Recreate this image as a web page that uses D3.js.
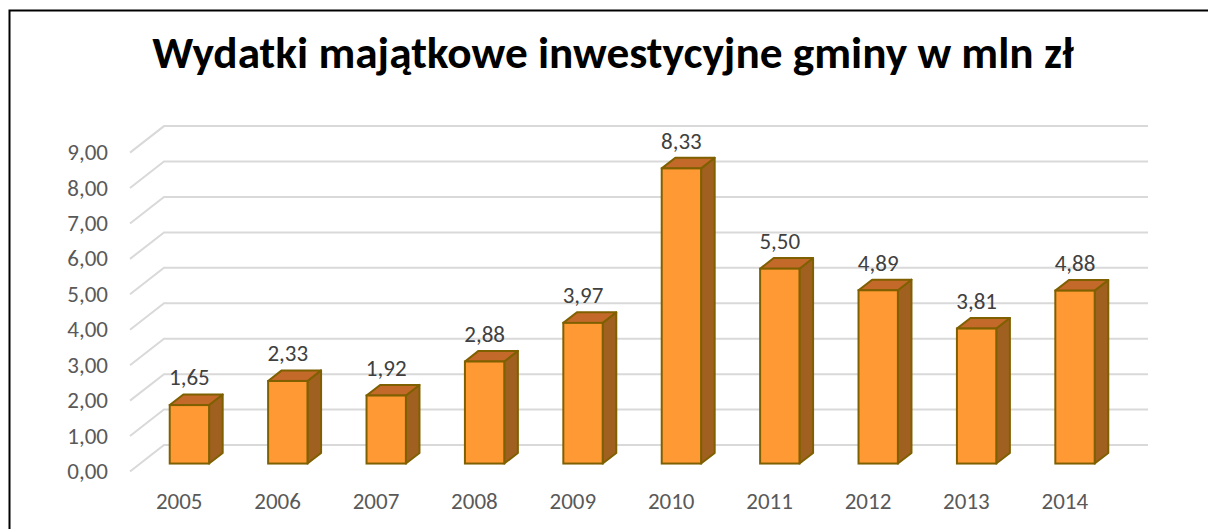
<!DOCTYPE html>
<html>
<head>
<meta charset="utf-8">
<script src="https://cdn.jsdelivr.net/npm/d3@7"></script>
<style>
  html, body { margin: 0; padding: 0; background: #fff; }
  svg { display: block; font-family: Carlito, Calibri, Lato, sans-serif; }
</style>
</head>
<body>
<svg id="chart" width="1208" height="529"></svg>
<script>
// ===== Data =====
const years  = ['2005', '2006', '2007', '2008', '2009', '2010', '2011', '2012', '2013', '2014'];
const values = [1.65, 2.33, 1.92, 2.88, 3.97, 8.33, 5.50, 4.89, 3.81, 4.88];
const yTicks = [0, 1, 2, 3, 4, 5, 6, 7, 8, 9];
const title  = 'Wydatki majątkowe inwestycyjne gminy w mln zł';

// ===== Layout =====
const W = 1208, H = 529;
const plot = { left: 130, right: 1114, floor: 471.5, top: 152.6 };
const depth = { dx: 34, dy: -26.5 };     // oblique depth vector of the 3D floor
const barFront = 0.3, barBack = 0.7;     // bars occupy the middle of the depth

const fmt = v => d3.format('.2f')(v).replace('.', ',');

const svg = d3.select('#chart');

// outer frame (only top + left edge visible in the crop)
svg.append('rect')
    .attr('x', 9.5).attr('y', 10.5)
    .attr('width', W + 20).attr('height', H + 20)
    .attr('fill', '#fff')
    .attr('stroke', '#000')
    .attr('stroke-width', 2);

const x = d3.scaleBand()
    .domain(years)
    .range([plot.left, plot.right])
    .paddingInner(0.6)
    .paddingOuter(0.3);

const y = d3.scaleLinear()
    .domain([0, 9])
    .range([plot.floor, plot.top]);

// ===== Gridlines: front diagonal + back wall line =====
const grid = svg.append('g');
yTicks.forEach(t => {
    const fy = y(t);
    grid.append('polyline')
        .attr('points', [
            [plot.left, fy],
            [plot.left + depth.dx, fy + depth.dy],
            [plot.right + depth.dx, fy + depth.dy]
        ].map(p => p.join(',')).join(' '))
        .attr('fill', 'none')
        .attr('stroke', '#d9d9d9')
        .attr('stroke-width', 2);
});

// ===== Y axis labels =====
svg.append('g').selectAll('text')
    .data(yTicks)
    .join('text')
    .attr('x', 108)
    .attr('y', d => y(d))
    .attr('dy', '0.33em')
    .attr('text-anchor', 'end')
    .attr('fill', '#595959')
    .style('font-size', '23px')
    .text(d => fmt(d));

// ===== X axis labels =====
svg.append('g').selectAll('text')
    .data(years)
    .join('text')
    .attr('x', d => x(d) + x.bandwidth() / 2)
    .attr('y', 509)
    .attr('text-anchor', 'middle')
    .attr('fill', '#595959')
    .style('font-size', '23px')
    .text(d => d);

// ===== 3D bars =====
const fx = barFront * depth.dx, fy0 = barFront * depth.dy;
const bdx = (barBack - barFront) * depth.dx, bdy = (barBack - barFront) * depth.dy;
const stroke = '#7f6000';

const bars = svg.append('g').selectAll('g')
    .data(years.map((yr, i) => ({ yr, v: values[i] })))
    .join('g');

bars.each(function(d) {
    const g = d3.select(this);
    const x0 = x(d.yr) + fx;
    const x1 = x0 + x.bandwidth();
    const yb = y(0) + fy0;
    const yt = y(d.v) + fy0;
    const pts = a => a.map(p => p.join(',')).join(' ');

    // side face
    g.append('polygon')
        .attr('points', pts([[x1, yt], [x1 + bdx, yt + bdy], [x1 + bdx, yb + bdy], [x1, yb]]))
        .attr('fill', '#a0601f')
        .attr('stroke', stroke).attr('stroke-width', 2).attr('stroke-linejoin', 'round');
    // top face
    g.append('polygon')
        .attr('points', pts([[x0, yt], [x0 + bdx, yt + bdy], [x1 + bdx, yt + bdy], [x1, yt]]))
        .attr('fill', '#c3692a')
        .attr('stroke', stroke).attr('stroke-width', 2).attr('stroke-linejoin', 'round');
    // front face
    g.append('rect')
        .attr('x', x0).attr('y', yt)
        .attr('width', x.bandwidth()).attr('height', yb - yt)
        .attr('fill', '#ff9933')
        .attr('stroke', stroke).attr('stroke-width', 2);

    // value label
    g.append('text')
        .attr('x', (x0 + x1) / 2)
        .attr('y', yt + bdy - 9)
        .attr('text-anchor', 'middle')
        .attr('fill', '#404040')
        .style('font-size', '23px')
        .text(fmt(d.v));
});

// ===== Title =====
const titleText = svg.append('text')
    .attr('x', 613)
    .attr('y', 68)
    .attr('text-anchor', 'middle')
    .attr('fill', '#000')
    .style('font-size', '34px')
    .style('font-weight', 'bold')
    .text(title);

// fit title to the reference width
const tw = titleText.node().getComputedTextLength();
titleText.style('font-size', (34 * 922 / tw).toFixed(1) + 'px');
</script>
</body>
</html>
